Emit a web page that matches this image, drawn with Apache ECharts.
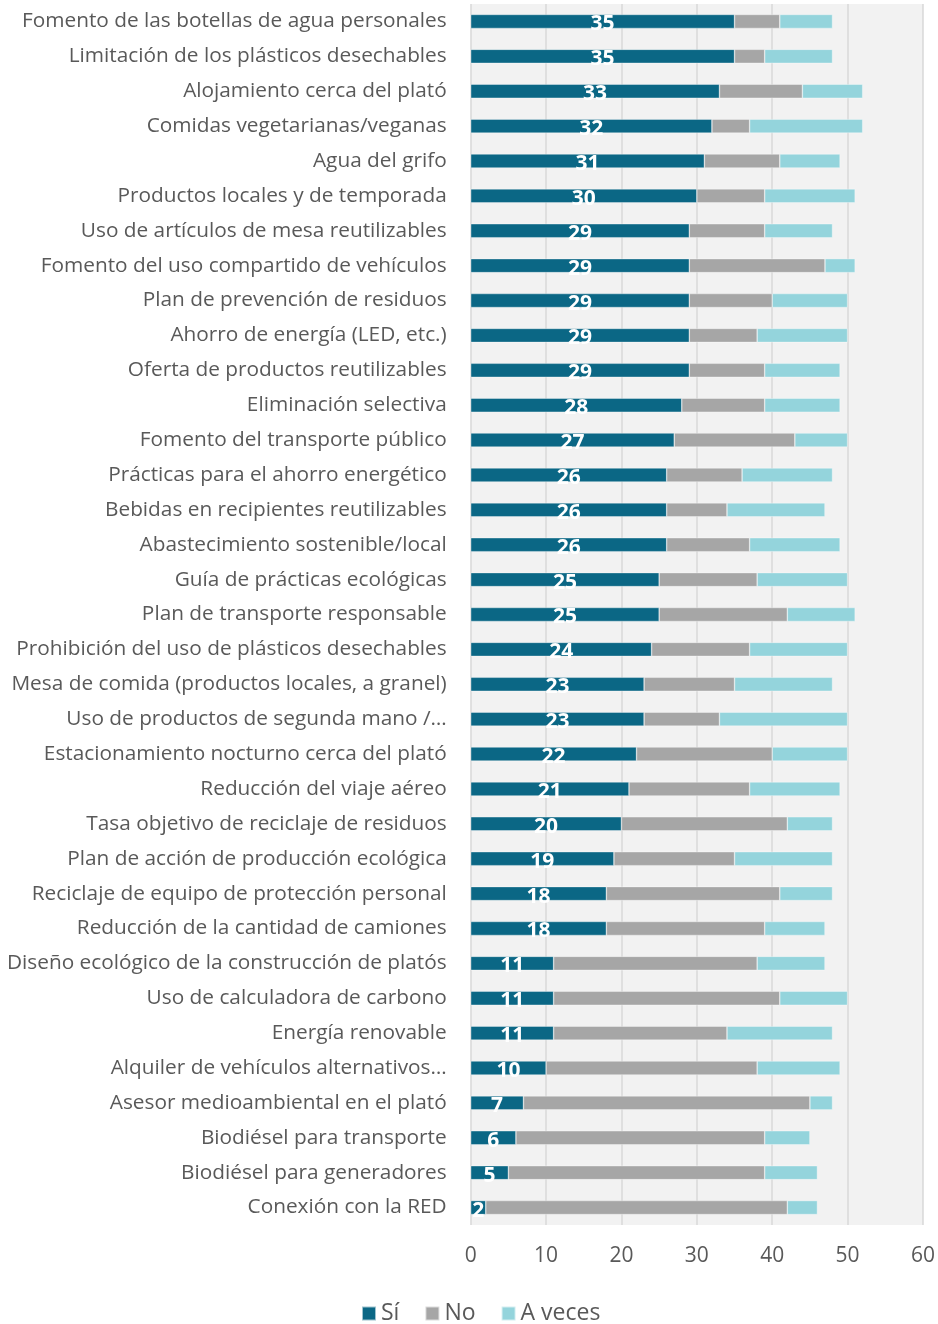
<!DOCTYPE html>
<html>
<head>
<meta charset="utf-8">
<script src="https://cdn.jsdelivr.net/npm/echarts@6/dist/echarts.min.js"></script>
<style>
  html, body { margin: 0; padding: 0; background: #ffffff; }
  #chart { width: 938px; height: 1324px; }
</style>
</head>
<body>
<div id="chart"></div>
<script>
const categories = [
  "Fomento de las botellas de agua personales",
  "Limitación de los plásticos desechables",
  "Alojamiento cerca del plató",
  "Comidas vegetarianas/veganas",
  "Agua del grifo",
  "Productos locales y de temporada",
  "Uso de artículos de mesa reutilizables",
  "Fomento del uso compartido de vehículos",
  "Plan de prevención de residuos",
  "Ahorro de energía (LED, etc.)",
  "Oferta de productos reutilizables",
  "Eliminación selectiva",
  "Fomento del transporte público",
  "Prácticas para el ahorro energético",
  "Bebidas en recipientes reutilizables",
  "Abastecimiento sostenible/local",
  "Guía de prácticas ecológicas",
  "Plan de transporte responsable",
  "Prohibición del uso de plásticos desechables",
  "Mesa de comida (productos locales, a granel)",
  "Uso de productos de segunda mano /…",
  "Estacionamiento nocturno cerca del plató",
  "Reducción del viaje aéreo",
  "Tasa objetivo de reciclaje de residuos",
  "Plan de acción de producción ecológica",
  "Reciclaje de equipo de protección personal",
  "Reducción de la cantidad de camiones",
  "Diseño ecológico de la construcción de platós",
  "Uso de calculadora de carbono",
  "Energía renovable",
  "Alquiler de vehículos alternativos…",
  "Asesor medioambiental en el plató",
  "Biodiésel para transporte",
  "Biodiésel para generadores",
  "Conexión con la RED"
];
const si =     [35,35,33,32,31,30,29,29,29,29,29,28,27,26,26,26,25,25,24,23,23,22,21,20,19,18,18,11,11,11,10, 7, 6, 5, 2];
const no =     [ 6, 4,11, 5,10, 9,10,18,11, 9,10,11,16,10, 8,11,13,17,13,12,10,18,16,22,16,23,21,27,30,23,28,38,33,34,40];
const aVeces = [ 7, 9, 8,15, 8,12, 9, 4,10,12,10,10, 7,12,13,12,12, 9,13,13,17,10,12, 6,13, 7, 8, 9, 9,14,11, 3, 6, 7, 4];
const seriesNames = ["Sí", "No", "A veces"];
const xTicks = { min: 0, max: 60, interval: 10 };

const colors = ["#0B6785", "#A6A6A6", "#94D4DC"];
const font = "'Open Sans', 'Noto Sans', sans-serif";

const chart = echarts.init(document.getElementById('chart'), null, { renderer: 'canvas' });
const barCommon = {
  type: 'bar',
  stack: 'total',
  barWidth: 14,
  itemStyle: { borderColor: 'rgba(255,255,255,0.6)', borderWidth: 0.6 }
};
chart.setOption({
  animation: false,
  textStyle: { fontFamily: font },
  color: colors,
  grid: {
    left: 470.7, right: 13.7, top: 4, bottom: 99,
    show: true, backgroundColor: '#F2F2F2', borderWidth: 0,
    containLabel: false
  },
  legend: {
    data: seriesNames,
    top: 1297,
    left: 356,
    itemWidth: 14, itemHeight: 14,
    itemGap: 25,
    icon: 'rect',
    textStyle: { fontSize: 23, color: '#595959', fontFamily: font }
  },
  xAxis: {
    type: 'value',
    min: xTicks.min, max: xTicks.max, interval: xTicks.interval,
    axisLine: { show: false },
    axisTick: { show: false },
    splitLine: { show: true, lineStyle: { color: '#D9D9D9', width: 1.5 } },
    axisLabel: { fontSize: 21, color: '#595959', margin: 21, fontFamily: font }
  },
  yAxis: {
    type: 'category',
    data: categories,
    inverse: true,
    axisLine: { show: false },
    axisTick: { show: false },
    axisLabel: { fontSize: 20.8, color: '#595959', margin: 24, fontFamily: font }
  },
  series: [
    Object.assign({}, barCommon, {
      name: seriesNames[0], data: si,
      label: {
        show: true, position: 'inside', color: '#ffffff', fontWeight: 'bold',
        fontSize: 21, fontFamily: font, offset: [0, 3]
      }
    }),
    Object.assign({}, barCommon, { name: seriesNames[1], data: no }),
    Object.assign({}, barCommon, { name: seriesNames[2], data: aVeces })
  ]
});
</script>
</body>
</html>
